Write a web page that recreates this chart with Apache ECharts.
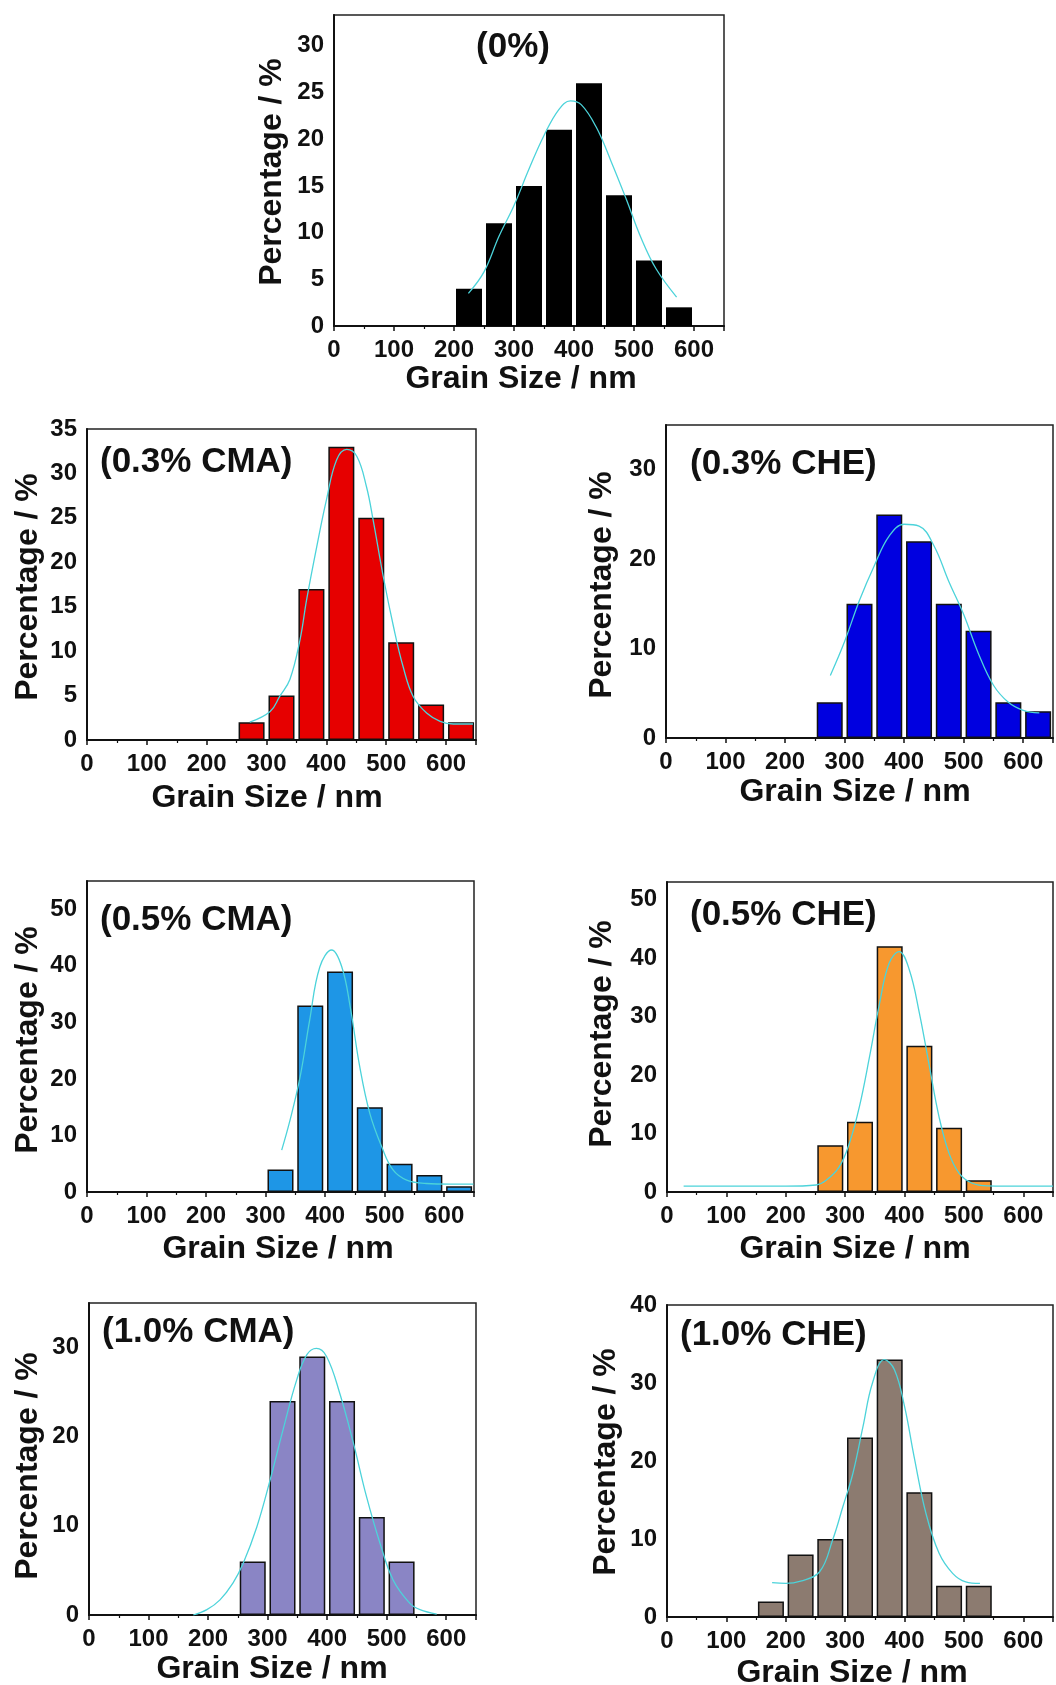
<!DOCTYPE html>
<html>
<head>
<meta charset="utf-8">
<title>Grain size distribution</title>
<script src="https://cdn.jsdelivr.net/npm/echarts/dist/echarts.min.js"></script>
<style>
  html, body { margin: 0; padding: 0; background: #fff; }
  #main { width: 1056px; height: 1685px; }
</style>
</head>
<body>
<div id="main"></div>
<script>
// panel labels
const panelTitles = ['(0%)', '(0.3% CMA)', '(0.3% CHE)', '(0.5% CMA)', '(0.5% CHE)', '(1.0% CMA)', '(1.0% CHE)']

// histogram bins (bin centre, nm) and percentages
const bin0 = [225, 275, 325, 375, 425, 475, 525, 575]
const pct0 = [4, 11, 15, 21, 26, 14, 7, 2]
const bin1 = [275, 325, 375, 425, 475, 525, 575, 625]
const pct1 = [2, 5, 17, 33, 25, 11, 4, 2]
const bin2 = [275, 325, 375, 425, 475, 525, 575, 625]
const pct2 = [4, 15, 25, 22, 15, 12, 4, 3]
const bin3 = [325, 375, 425, 475, 525, 575, 625]
const pct3 = [4, 33, 39, 15, 5, 3, 1]
const bin4 = [275, 325, 375, 425, 475, 525]
const pct4 = [8, 12, 42, 25, 11, 2]
const bin5 = [275, 325, 375, 425, 475, 525]
const pct5 = [6, 24, 29, 24, 11, 6]
const bin6 = [175, 225, 275, 325, 375, 425, 475, 525]
const pct6 = [2, 8, 10, 23, 33, 16, 4, 4]

// fitted curves
const fitX0 = [224, 250, 275, 300, 325, 350, 375, 394, 412, 437, 462, 487, 512, 537, 571]
const fitY0 = [3.5, 5.8, 9.6, 12.9, 16.8, 20.4, 23.2, 24.1, 23.7, 21.3, 17.6, 13.6, 9.4, 6.1, 3.1]
const fitX1 = [272, 306, 322, 339, 356, 367, 384, 400, 417, 434, 451, 467, 478, 495, 512, 528, 545, 568, 590, 612, 645]
const fitY1 = [2.0, 3.2, 4.9, 6.8, 11.3, 15.8, 21.8, 27.0, 31.5, 32.7, 31.9, 28.5, 24.8, 18.4, 12.8, 8.3, 4.9, 3.0, 2.1, 1.8, 1.8]
const fitX2 = [276, 300, 325, 350, 375, 400, 425, 450, 475, 500, 525, 550, 575, 600, 627]
const fitY2 = [7.0, 10.8, 15.4, 19.3, 22.6, 23.9, 23.7, 21.5, 17.5, 13.8, 9.4, 5.9, 4.0, 3.1, 2.8]
const fitX3 = [327, 341, 358, 374, 391, 411, 428, 442, 458, 475, 495, 514, 537, 570, 610, 649]
const fitY3 = [7.4, 12.7, 20.4, 30.4, 39.8, 42.8, 39.8, 32.8, 22.2, 13.9, 8.0, 3.9, 2.1, 1.5, 1.4, 1.4]
const fitX4 = [28, 100, 200, 251, 268, 290, 307, 324, 341, 358, 374, 391, 408, 425, 442, 458, 475, 492, 514, 540, 600, 650]
const fitY4 = [1.0, 1.0, 1.0, 1.2, 2.0, 4.3, 8.3, 14.6, 23.1, 32.3, 39.1, 41.1, 38.0, 30.6, 21.4, 12.9, 6.6, 3.2, 1.5, 1.05, 1.0, 1.0]
const fitX5 = [175, 198, 220, 242, 259, 282, 304, 326, 349, 366, 382, 399, 421, 444, 466, 489, 511, 539, 556, 584]
const fitY5 = [0, 0.6, 1.7, 3.6, 5.8, 9.9, 15.1, 20.8, 26.4, 29.2, 29.9, 29.0, 24.9, 19.3, 13.3, 8.0, 3.9, 1.3, 0.6, 0.1]
const fitX6 = [177, 200, 225, 257, 279, 296, 313, 330, 346, 366, 383, 400, 416, 436, 458, 481, 503, 527]
const fitY6 = [4.4, 4.3, 4.6, 5.8, 9.9, 14.1, 18.4, 24.4, 30.0, 33.0, 31.7, 27.0, 20.6, 13.3, 8.2, 5.6, 4.5, 4.3]

const xTitle = 'Grain Size / nm'
const yTitle = 'Percentage / %'

const font = '"Liberation Sans", Arial, Helvetica, sans-serif'
const fitColor = '#4cd3da'

// layout + style of each panel
const panels = [
  {bins: bin0, pct: pct0, fx: fitX0, fy: fitY0, color: '#000000', border: 0,
    grid: {left: 334, top: 15, width: 390, height: 311}, yMax: 33.3, yStep: 5,
    title: {x: 513, y: 47, align: 'center'}, xName: [521, 379], yName: [272, 172]},
  {bins: bin1, pct: pct1, fx: fitX1, fy: fitY1, color: '#e60000', border: 1.5,
    grid: {left: 87, top: 429, width: 389, height: 311}, yMax: 35, yStep: 5,
    title: {x: 100, y: 462, align: 'left'}, xName: [267, 798], yName: [28, 587]},
  {bins: bin2, pct: pct2, fx: fitX2, fy: fitY2, color: '#0000e0', border: 1.5,
    grid: {left: 666, top: 425, width: 387, height: 313}, yMax: 35, yStep: 10,
    title: {x: 690, y: 464, align: 'left'}, xName: [855, 792], yName: [602, 585]},
  {bins: bin3, pct: pct3, fx: fitX3, fy: fitY3, color: '#1e96e6', border: 1.5,
    grid: {left: 87, top: 881, width: 387, height: 311}, yMax: 55, yStep: 10,
    title: {x: 100, y: 920, align: 'left'}, xName: [278, 1249], yName: [28, 1040]},
  {bins: bin4, pct: pct4, fx: fitX4, fy: fitY4, color: '#f7982f', border: 1.5,
    grid: {left: 667, top: 882, width: 387, height: 310}, yMax: 53, yStep: 10,
    title: {x: 690, y: 915, align: 'left'}, xName: [855, 1249], yName: [602, 1034]},
  {bins: bin5, pct: pct5, fx: fitX5, fy: fitY5, color: '#8a85c5', border: 1.5,
    grid: {left: 89, top: 1303, width: 387, height: 312}, yMax: 35, yStep: 10,
    title: {x: 102, y: 1332, align: 'left'}, xName: [272, 1669], yName: [28, 1466]},
  {bins: bin6, pct: pct6, fx: fitX6, fy: fitY6, color: '#8c7b70', border: 1.5,
    grid: {left: 667, top: 1305, width: 387, height: 312}, yMax: 40, yStep: 10,
    title: {x: 680, y: 1335, align: 'left'}, xName: [852, 1673], yName: [606, 1462]}
]

let grids = []
let xAxes = []
let yAxes = []
let series = []
let graphics = []

panels.forEach((p, i) => {
  grids.push(Object.assign({show: true, borderColor: '#222', borderWidth: 1.5}, p.grid))

  xAxes.push({
    gridIndex: i, type: 'value', min: 0, max: 650, interval: 100,
    axisLine: {show: true, lineStyle: {color: '#111', width: 2}},
    axisTick: {show: true, inside: false, length: 5, lineStyle: {color: '#111', width: 1.5}},
    minorTick: {show: true, splitNumber: 2, length: 3, lineStyle: {color: '#111', width: 1.2}},
    splitLine: {show: false},
    axisLabel: {
      margin: 12, fontSize: 24, fontWeight: 'bold', fontFamily: font, color: '#111',
      formatter: v => (v % 100 === 0 ? String(v) : '')
    }
  })

  yAxes.push({
    gridIndex: i, type: 'value', min: 0, max: p.yMax, interval: p.yStep,
    axisLine: {show: true, lineStyle: {color: '#111', width: 2}},
    axisTick: {show: false},
    splitLine: {show: false},
    axisLabel: {
      margin: 10, fontSize: 24, fontWeight: 'bold', fontFamily: font, color: '#111',
      formatter: v => (v % p.yStep === 0 ? String(v) : '')
    }
  })

  series.push({
    type: 'bar', xAxisIndex: i, yAxisIndex: i, silent: true,
    data: p.bins.map((b, j) => [b, p.pct[j]]),
    barWidth: 26,
    itemStyle: {color: p.color, borderColor: '#111', borderWidth: p.border},
    z: 2
  })

  series.push({
    type: 'line', xAxisIndex: i, yAxisIndex: i, silent: true,
    data: p.fx.map((x, j) => [x, p.fy[j]]),
    smooth: 0.4, showSymbol: false,
    lineStyle: {color: fitColor, width: 1.3},
    z: 3
  })

  // panel label
  graphics.push({
    type: 'text', x: p.title.x, y: p.title.y, z: 10,
    style: {text: panelTitles[i], fontSize: 35, fontWeight: 'bold', fontFamily: font,
      fill: '#111', align: p.title.align, verticalAlign: 'middle'}
  })
  // axis titles
  graphics.push({
    type: 'text', x: p.xName[0], y: p.xName[1], z: 10,
    style: {text: xTitle, fontSize: 32, fontWeight: 'bold', fontFamily: font,
      fill: '#111', align: 'center', verticalAlign: 'middle'}
  })
  graphics.push({
    type: 'text', x: p.yName[0], y: p.yName[1], rotation: Math.PI / 2, z: 10,
    style: {text: yTitle, fontSize: 32, fontWeight: 'bold', fontFamily: font,
      fill: '#111', align: 'center', verticalAlign: 'middle'}
  })
})

const chart = echarts.init(document.getElementById('main'), null, {renderer: 'canvas'})
chart.setOption({
  animation: false,
  backgroundColor: '#fff',
  grid: grids,
  xAxis: xAxes,
  yAxis: yAxes,
  series: series,
  graphic: graphics
})
</script>
</body>
</html>
